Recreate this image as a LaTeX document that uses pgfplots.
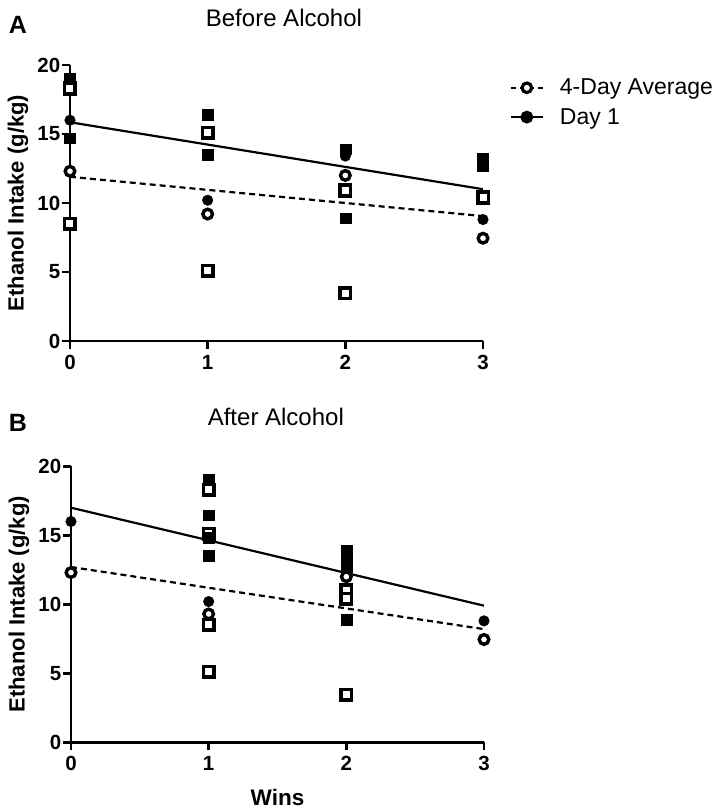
\documentclass[border=0pt]{standalone}
\usepackage{fontspec}
\setmainfont{Liberation Sans}
\usepackage{pgfplots}
\pgfplotsset{compat=1.18}

\pgfplotsset{
  gp/.style={
    scale only axis, width=413pt, height=276pt,
    xmin=0, xmax=3, ymin=0, ymax=20,
    axis x line=bottom, axis y line=left,
    axis line style={line width=2.5pt, -},
    xtick={0,1,2,3}, ytick={0,5,10,15,20},
    tick align=outside, major tick length=8pt,
    every tick/.style={line width=2.5pt, black},
    tick label style={font=\bfseries\fontsize{20.5}{24}\selectfont},
    /pgf/number format/assume math mode=true,
    yticklabel style={inner sep=1.5pt},
    xticklabel style={inner sep=6pt},
    clip=false,
    ylabel={Ethanol Intake (g/kg)},
    ylabel style={at={(axis description cs:-0.126,0.5)}, anchor=center, font=\bfseries\fontsize{22}{26}\selectfont},
    title style={font=\fontsize{24}{28}\selectfont, anchor=center},
  },
  fsq/.style={only marks, mark=square*, mark size=5.4pt, mark options={fill=black, draw=black, line width=0.4pt}, forget plot},
  osq/.style={only marks, mark=square*, mark size=5.3pt, mark options={fill=white, draw=black, line width=3.6pt}, forget plot},
  fci/.style={only marks, mark=*, mark size=5.3pt, mark options={fill=black, draw=black, line width=0.4pt}, forget plot},
  oci/.style={only marks, mark=*, mark size=4.8pt, mark options={fill=white, draw=black, line width=3.4pt}, forget plot},
  regs/.style={no marks, black, line width=2.2pt, forget plot},
  regd/.style={no marks, black, line width=2.2pt, dash pattern=on 6pt off 4pt, forget plot},
}

\begin{document}
\begin{tikzpicture}
\useasboundingbox (0pt,0pt) rectangle (714pt,811pt);

\node[font=\bfseries\fontsize{25}{29}\selectfont] at (18pt,786pt) {A};
\node[font=\bfseries\fontsize{25}{29}\selectfont] at (18pt,388pt) {B};

% ---------------- Panel A ----------------
\begin{axis}[gp,
  at={(70pt,470pt)}, anchor=south west,
  title={Before Alcohol},
  title style={at={(axis description cs:0.518,1)}, yshift=41pt},
  legend style={at={(rel axis cs:1.057,0.964)}, anchor=north west, draw=none, fill=none,
    font=\fontsize{23}{27}\selectfont, row sep=8pt, column sep=14pt, legend cell align=left},
  legend image code/.code={\draw[mark repeat=2,mark phase=2,#1] plot coordinates {(0pt,0pt) (16pt,0pt) (32pt,0pt)};},
]
\addlegendimage{black, line width=2.2pt, dash pattern=on 5pt off 4pt, mark=*, mark size=4.8pt, mark options={solid, fill=white, draw=black, line width=3.2pt}}
\addlegendentry{4-Day Average}
\addlegendimage{black, line width=2.2pt, mark=*, mark size=5.3pt, mark options={fill=black, draw=black}}
\addlegendentry{Day 1}

\addplot[regs] coordinates {(0,15.85) (3,11.0)};
\addplot[regd] coordinates {(0,11.9) (3,9.05)};
\addplot[oci] coordinates {(0,12.3) (1,9.2) (2,12.0) (3,7.45)};
\addplot[fci] coordinates {(0,16.0) (1,10.2) (2,13.4) (3,8.8)};
\addplot[osq] coordinates {(0,18.3) (0,8.5) (1,15.1) (1,5.1) (2,10.9) (2,3.45) (3,10.4)};
\addplot[fsq] coordinates {(0,19.0) (0,14.7) (1,16.4) (1,13.5) (2,13.9) (2,8.9) (3,13.2) (3,12.7)};
\end{axis}

% ---------------- Panel B ----------------
\begin{axis}[gp,
  at={(71pt,68.7pt)}, anchor=south west,
  title={After Alcohol},
  title style={at={(axis description cs:0.496,1)}, yshift=43pt},
  xlabel={Wins},
  xlabel style={at={(axis description cs:0.5,0)}, anchor=center, yshift=-55pt, font=\bfseries\fontsize{22.5}{26}\selectfont},
]
\addplot[regs] coordinates {(0,17.0) (3,9.9)};
\addplot[regd] coordinates {(0,12.7) (3,8.2)};
\addplot[oci] coordinates {(0,12.3) (1,9.3) (2,12.0) (3,7.45)};
\addplot[fci] coordinates {(0,16.0) (1,10.2) (2,12.8) (3,8.8)};
\addplot[osq] coordinates {(1,18.3) (1,15.1) (1,8.5) (1,5.1) (2,11.0) (2,10.4) (2,3.45)};
\addplot[fsq] coordinates {(1,19.0) (1,16.45) (1,14.8) (1,13.5) (2,13.9) (2,13.2) (2,12.7) (2,8.9)};
\end{axis}
\end{tikzpicture}
\end{document}
